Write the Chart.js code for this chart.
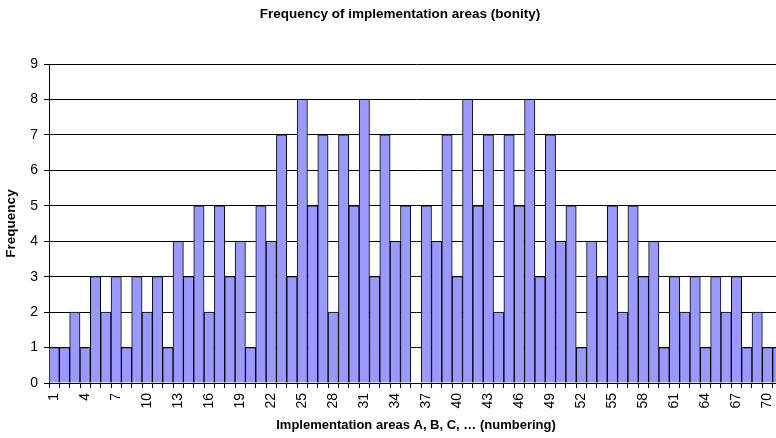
<!DOCTYPE html>
<html>
<head>
<meta charset="utf-8">
<script src="https://cdn.jsdelivr.net/npm/chart.js@4"></script>
<style>
  html, body { margin: 0; padding: 0; background: #fff; overflow: hidden; }
  #wrap { width: 800px; height: 438px; }
</style>
</head>
<body>
<div id="wrap"><canvas id="myChart" width="800" height="438"></canvas></div>
<script>
// implementation areas 1..71 (the original chart is cut off on the right)
const areas = [];
for (let i = 1; i <= 71; i++) areas.push(String(i));

const frequency = [
  1, 1, 2, 1, 3, 2, 3, 1, 3, 2,
  3, 1, 4, 3, 5, 2, 5, 3, 4, 1,
  5, 4, 7, 3, 8, 5, 7, 2, 7, 5,
  8, 3, 7, 4, 5, 0, 5, 4, 7, 3,
  8, 5, 7, 2, 7, 5, 8, 3, 7, 4,
  5, 1, 4, 3, 5, 2, 5, 3, 4, 1,
  3, 2, 3, 1, 3, 2, 3, 1, 2, 1,
  1
];

const yTicks = [0, 1, 2, 3, 4, 5, 6, 7, 8, 9];

const chartTitle = "Frequency of implementation areas (bonity)";

// title centred on the whole canvas, like the original excel chart
const centeredTitle = {
  id: "centeredTitle",
  afterDraw(chart) {
    const c = chart.ctx;
    c.save();
    c.font = "bold 13.5px 'Liberation Sans'";
    c.fillStyle = "#000";
    c.textAlign = "center";
    c.textBaseline = "middle";
    c.fillText(chartTitle, chart.width / 2, 14);
    c.restore();
  },
};

const ctx = document.getElementById("myChart").getContext("2d");
const myChart = new Chart(ctx, {
  type: "bar",
  data: {
    labels: areas,
    datasets: [
      {
        label: "Frequency",
        data: frequency,
        backgroundColor: "#9999FF",
        borderColor: "#000000",
        borderWidth: 1,
        categoryPercentage: 1,
        barPercentage: 1,
      },
    ],
  },
  plugins: [centeredTitle],
  options: {
    responsive: false,
    animation: false,
    layout: { padding: { left: 0, right: 17, top: 64, bottom: 0 } },
    plugins: {
      legend: { display: false },
      tooltip: { enabled: false },
      title: { display: false },
    },
    scales: {
      x: {
        offset: true,
        grid: {
          offset: true,
          drawOnChartArea: false,
          drawTicks: true,
          tickLength: 5,
          color: "#000",
        },
        border: { color: "#000", width: 1 },
        ticks: {
          autoSkip: false,
          maxRotation: 90,
          minRotation: 90,
          padding: 5,
          color: "#000",
          font: { family: "Liberation Sans", size: 14 },
          callback: function (value, index) {
            return index % 3 === 0 ? areas[index] : "";
          },
        },
        title: {
          display: true,
          text: "Implementation areas A, B, C, \u2026 (numbering)",
          color: "#000",
          font: { family: "Liberation Sans", size: 13, weight: "bold" },
          padding: { top: 0, bottom: 5 },
        },
        afterFit: function (scale) {
          scale.height = 55;
        },
      },
      y: {
        min: 0,
        max: 9,
        afterBuildTicks: function (scale) {
          scale.ticks = yTicks.map((v) => ({ value: v }));
        },
        grid: {
          color: "#000",
          lineWidth: 1,
          drawTicks: true,
          tickLength: 5,
        },
        border: { color: "#000", width: 1 },
        ticks: {
          padding: 6,
          color: "#000",
          font: { family: "Liberation Sans", size: 14 },
        },
        title: {
          display: true,
          text: "Frequency",
          color: "#000",
          font: { family: "Liberation Sans", size: 13.5, weight: "bold" },
          padding: { top: 3, bottom: 0 },
        },
        afterFit: function (scale) {
          scale.width = 49;
        },
      },
    },
  },
});
</script>
</body>
</html>
